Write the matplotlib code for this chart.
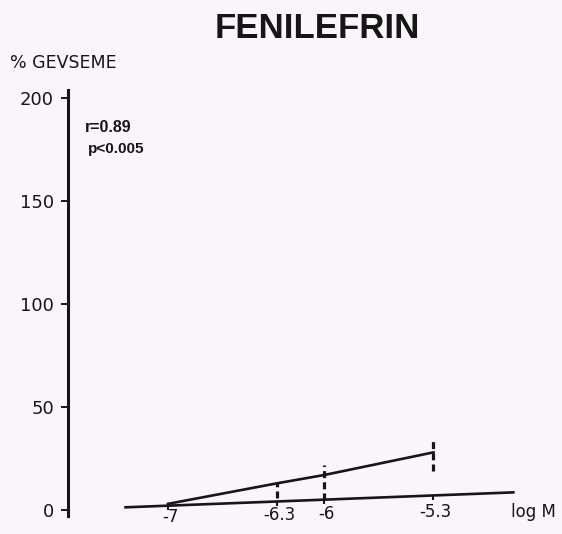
import numpy as np
import matplotlib
matplotlib.use("Agg")
import matplotlib.pyplot as plt

# phenylephrine dose-response: mean relaxation (%) at each log molar concentration
log_conc = [-7, -6.3, -6, -5.3]
relax = [3, 13, 17, 28]
err_low = [0, 7, 12, 9]
err_high = [0, 0, 5, 6]
xtick_labels = ["-7", "-6.3", "-6", "-5.3"]
yticks = [0, 50, 100, 150, 200]

# the concentration axis is drawn as a free line, slightly tilted
base_x = [-7.28, -4.78]
base_y = [1.3, 8.6]

INK = "#161616"
PAPER = "#faf5fa"
BOLD = ["Liberation Sans", "DejaVu Sans"]

plt.rcParams["font.family"] = ["DejaVu Sans"]

fig = plt.figure(figsize=(5.62, 5.34), dpi=100, facecolor=PAPER)
ax = fig.add_axes([68 / 562, 0.0333, 447 / 562, 0.7985])
ax.set_facecolor(PAPER)
ax.set_xlim(-7.640, -4.778)
ax.set_ylim(-3, 204)

for side in ["top", "right", "bottom"]:
    ax.spines[side].set_visible(False)
ax.spines["left"].set_linewidth(2.2)
ax.spines["left"].set_color(INK)

ax.set_yticks(yticks)
ax.set_yticklabels([str(v) for v in yticks])
ax.tick_params(axis="y", direction="out", length=5, width=1.4, pad=5,
               labelsize=13, colors=INK)
ax.set_xticks([])

# x axis line with small ticks; labels sit just under it
ax.plot(base_x, base_y, color=INK, lw=1.9, solid_capstyle="butt", clip_on=False)
tick_base = np.interp(log_conc, base_x, base_y)
ax.vlines(log_conc, tick_base - 2.2, tick_base, color=INK, lw=1.5, clip_on=False)
label_y = np.interp(log_conc, [-7, -5.3], [-3.6, -1.0])
for x, yl, lab in zip(log_conc, label_y, xtick_labels):
    ax.text(x + 0.015, yl, lab, ha="center", va="center", fontsize=12,
            color=INK, clip_on=False)
ax.text(-4.804, -1.0, "log M", ha="left", va="center", fontsize=12,
        color=INK, clip_on=False)

# mean response line with dashed error bars
ax.plot(log_conc, relax, color=INK, lw=1.9, clip_on=False)
eb = ax.errorbar(log_conc, relax, yerr=[err_low, err_high], fmt="none",
                 ecolor=INK, elinewidth=2.3, capsize=0)
eb[2][0].set_linestyle((0, (2.2, 1.3)))

ax.text(-7.535, 185.5, "r=0.89", fontsize=11.5, family=BOLD, weight="bold",
        color=INK, va="center", ha="left")
ax.text(-7.51, 175.5, "p<0.005", fontsize=11, family=BOLD, weight="bold",
        color=INK, va="center", ha="left")

fig.text(10 / 562, 1 - 62.5 / 534, "% GEVSEME", fontsize=12.5, color=INK,
         ha="left", va="center")
fig.text(317 / 562, 1 - 28 / 534, "FENILEFRIN", fontsize=25, weight="bold",
         family=BOLD, color=INK, ha="center", va="center")

fig.savefig("out.png", dpi=100, facecolor=PAPER)
